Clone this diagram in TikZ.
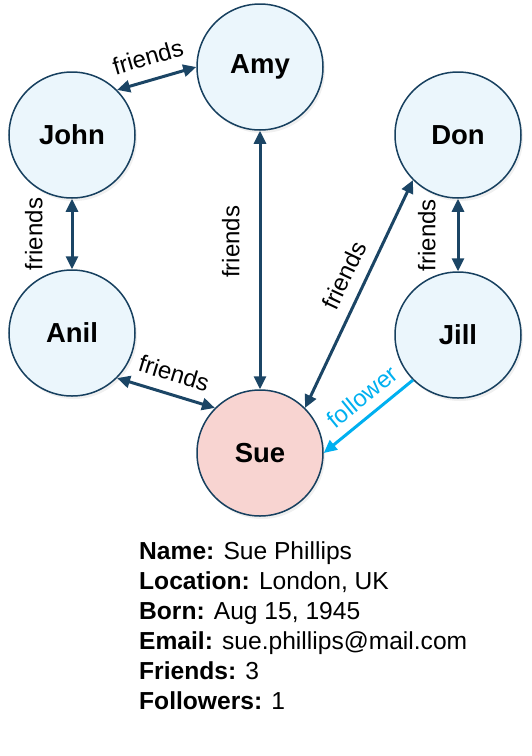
\documentclass[tikz,border=0pt]{standalone}
\usepackage{fontspec}
\setmainfont{Liberation Sans}
\usetikzlibrary{arrows.meta,shadows}
\definecolor{person}{HTML}{EBF6FC}
\definecolor{sue}{HTML}{F8D4D1}
\definecolor{rim}{HTML}{17405F}
\definecolor{link}{HTML}{1B4565}
\definecolor{follow}{HTML}{00B0F0}

\begin{document}
\begin{tikzpicture}[x=1pt,y=1pt,
  member/.style={circle,draw=rim,line width=1.5pt,fill=person,minimum size=126pt,inner sep=0pt,
    font=\fontsize{27.5}{32}\selectfont\bfseries,
    drop shadow={opacity=0.12,shadow xshift=2pt,shadow yshift=-3pt}},
  friendlink/.style={link,line width=3pt,{Triangle[length=13pt,width=12pt]}-{Triangle[length=13pt,width=12pt]}},
  tag/.style={font=\fontsize{24}{28}\selectfont,text=black,inner sep=0pt,sloped}]
  \useasboundingbox (0,0) rectangle (531,-756);

  % People
  \node[member] (amy) at (260,-67) {Amy};
  \node[member] (john) at (72,-135) {John};
  \node[member] (don) at (458,-135) {Don};
  \node[member] (anil) at (72,-333) {Anil};
  \node[member] (jill) at (458,-335) {Jill};
  \node[member,fill=sue] (sue) at (260,-453) {Sue};

  % Friend links
  \draw[friendlink] (john.north east) -- node[tag,pos=0.47,above=13pt] {friends} (amy.west);
  \draw[friendlink] (anil.north) -- node[tag,above=28pt] {friends} (john.south);
  \draw[friendlink] (sue.north) -- node[tag,pos=0.57,above=19pt] {friends} (amy.south);
  \draw[friendlink] (jill.north) -- node[tag,above=21pt] {friends} (don.south);
  \draw[friendlink] (sue.north east) -- node[tag,pos=0.54,above=11pt] {friends} (don.south west);
  \draw[friendlink] (anil.south east) -- node[tag,pos=0.52,above=11pt] {friends} (sue.north west);

  % Follower link
  \draw[follow,line width=3pt,{Triangle[length=13pt,width=12pt]}-] (sue.east) -- node[tag,text=follow,pos=0.57,above=9pt] {follower} (jill.south west);

  % Profile of Sue
  \node[anchor=north west,inner sep=0pt,align=left,font=\fontsize{24.6}{30}\selectfont] (info) at (139,-541)
    {\textbf{Name:} Sue Phillips\\
     \textbf{Location:} London, UK\\
     \textbf{Born:} Aug 15, 1945\\
     \textbf{Email:} sue.phillips@mail.com\\
     \textbf{Friends:} 3\\
     \textbf{Followers:} 1};
\end{tikzpicture}
\end{document}
